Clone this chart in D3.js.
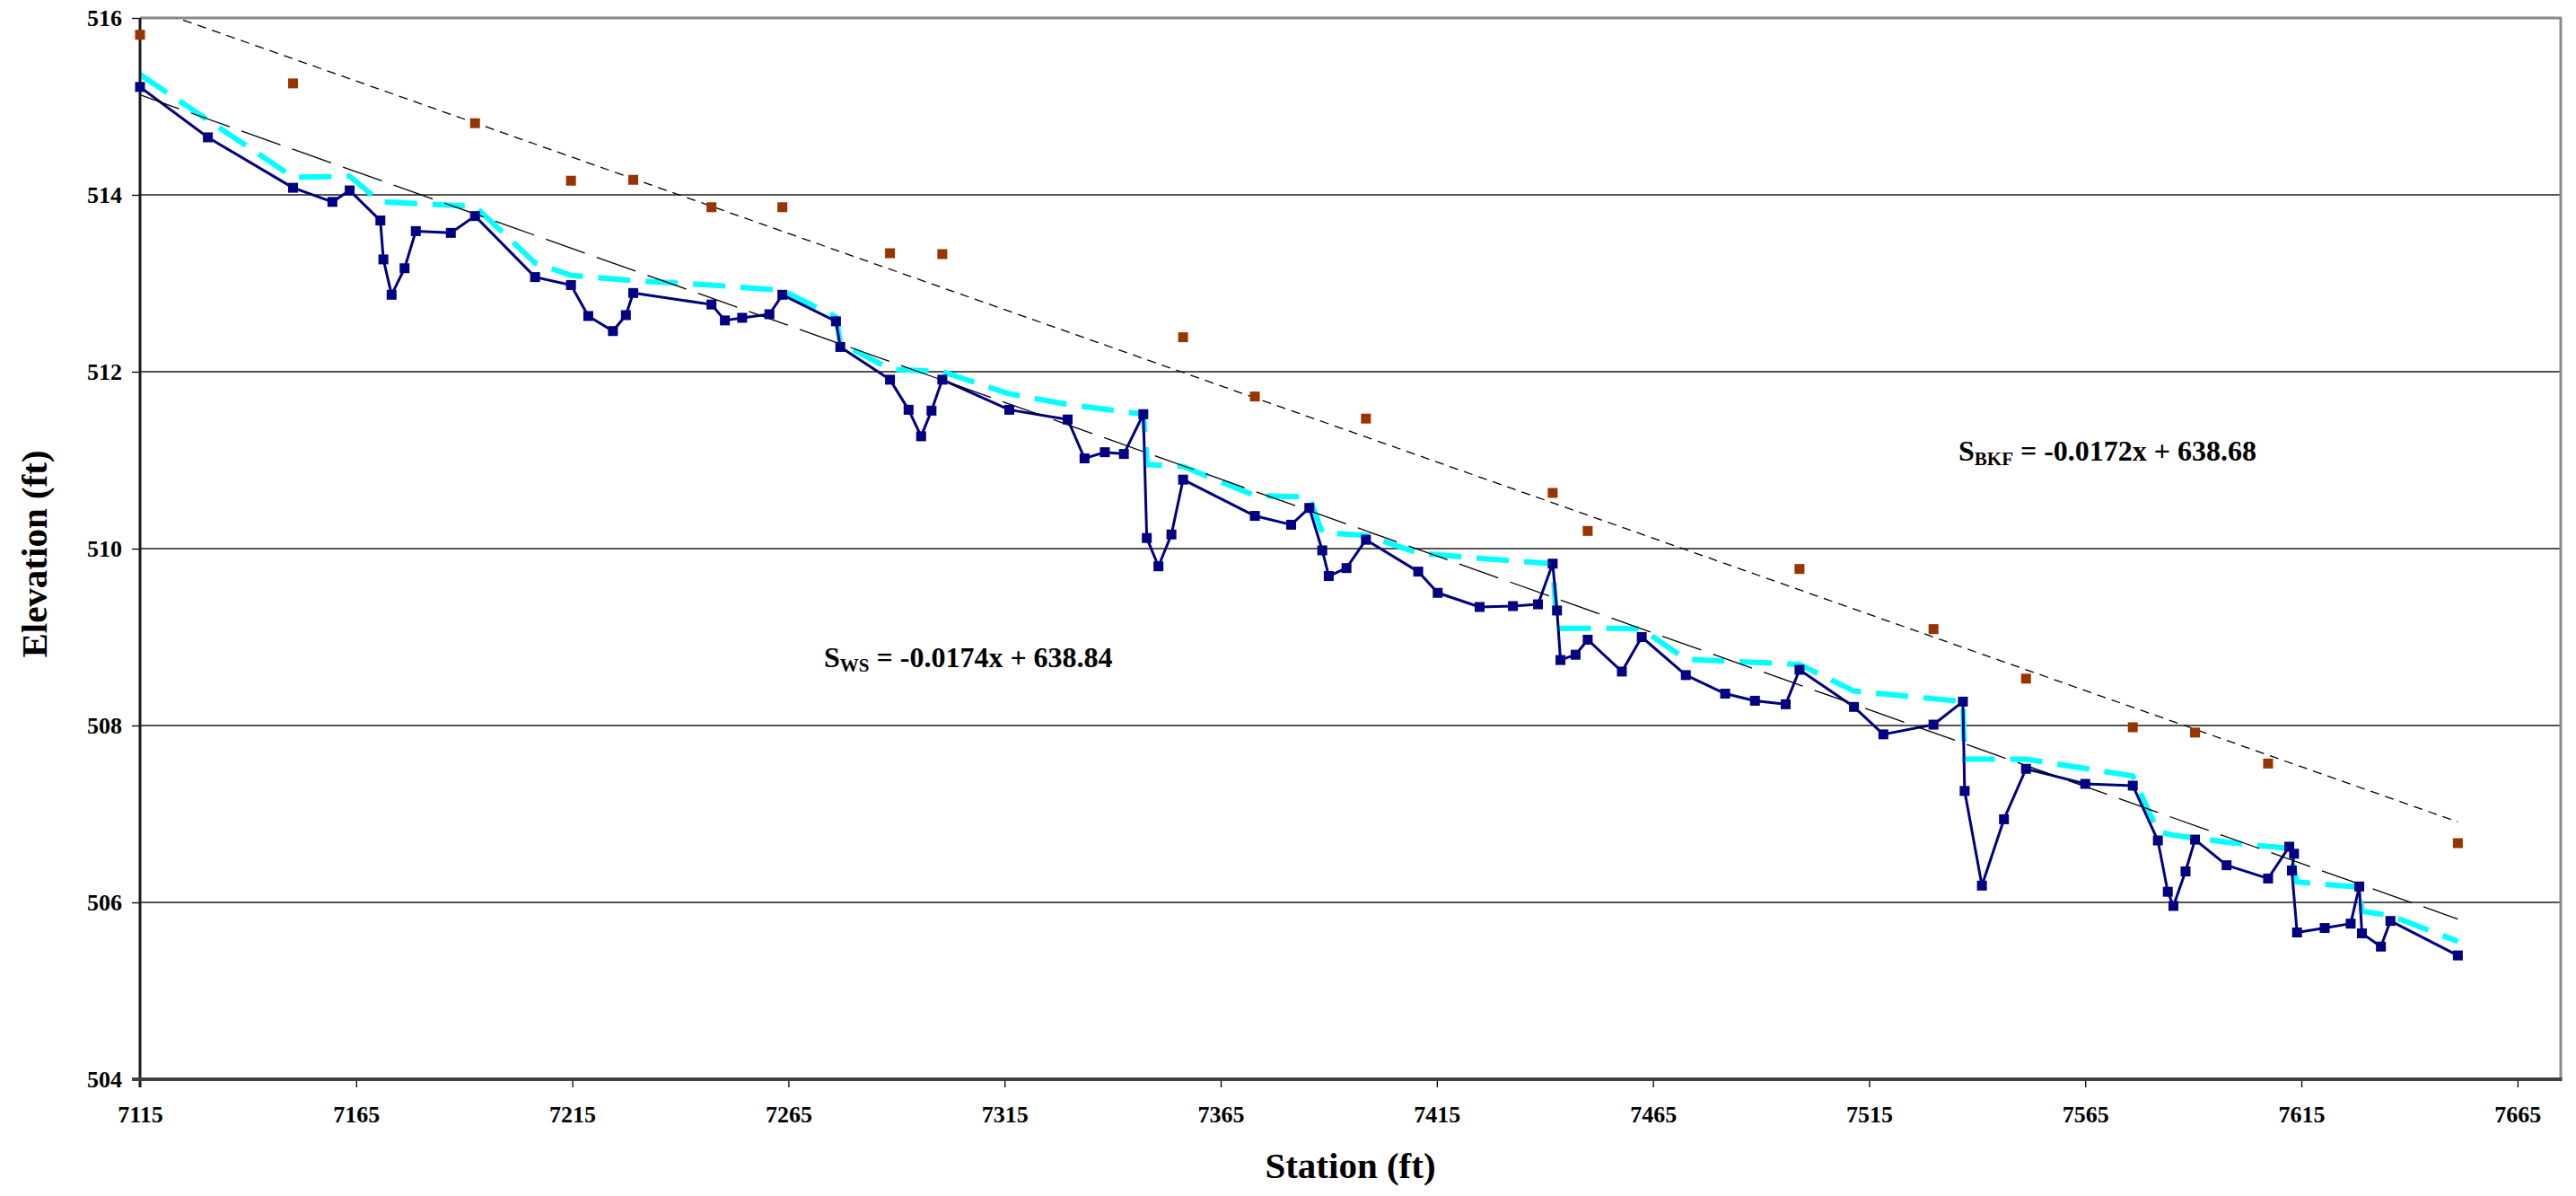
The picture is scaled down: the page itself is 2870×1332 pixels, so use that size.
<!DOCTYPE html>
<html>
<head>
<meta charset="utf-8">
<script src="https://cdn.jsdelivr.net/npm/d3@7"></script>
<style>
  html, body { margin: 0; padding: 0; background: #fff; }
  svg { display: block; font-family: "Liberation Serif", "Times New Roman", serif; }
</style>
</head>
<body>
<svg id="chart" width="2870" height="1332"></svg>
<script>
// ---------- DATA ----------
const thalwegStation = [7115.0,7130.7,7150.4,7159.5,7163.5,7170.6,7171.3,7173.2,7176.2,7178.8,7186.9,7192.5,7206.4,7214.7,7218.7,7224.4,7227.4,7229.1,7247.2,7250.3,7254.3,7260.6,7263.6,7276.0,7277.0,7288.5,7292.8,7295.7,7298.1,7300.6,7316.1,7329.6,7333.5,7338.2,7342.6,7347.1,7347.9,7350.6,7353.6,7356.3,7372.9,7381.3,7385.5,7388.5,7390.0,7394.1,7398.6,7410.7,7415.2,7424.9,7432.6,7438.4,7441.8,7442.8,7443.6,7447.1,7449.9,7457.8,7462.4,7472.6,7481.7,7488.6,7495.7,7498.9,7511.5,7518.3,7529.9,7536.7,7537.1,7541.1,7546.2,7551.3,7565.0,7576.0,7581.8,7584.1,7585.4,7588.2,7590.4,7597.7,7607.3,7612.2,7613.3,7612.8,7614.0,7620.4,7626.4,7628.4,7629.0,7633.4,7635.6,7651.2];
const thalwegElev = [515.22,514.65,514.08,513.92,514.05,513.71,513.27,512.87,513.17,513.59,513.57,513.76,513.07,512.98,512.63,512.46,512.64,512.89,512.76,512.58,512.61,512.65,512.87,512.57,512.28,511.91,511.57,511.27,511.56,511.91,511.57,511.46,511.02,511.09,511.07,511.52,510.12,509.80,510.16,510.78,510.37,510.27,510.46,509.98,509.69,509.78,510.10,509.74,509.50,509.34,509.35,509.37,509.83,509.30,508.74,508.80,508.97,508.61,509.00,508.57,508.36,508.28,508.24,508.63,508.21,507.90,508.01,508.27,507.26,506.19,506.94,507.51,507.34,507.32,506.70,506.12,505.96,506.35,506.71,506.42,506.27,506.63,506.55,506.36,505.66,505.71,505.76,506.18,505.65,505.50,505.79,505.40];

const wsStation = [7115.0,7150.4,7163.5,7170.6,7192.5,7206.4,7214.7,7229.1,7247.2,7263.6,7276.0,7277.0,7288.5,7300.6,7316.1,7329.6,7347.1,7348.0,7356.3,7372.9,7381.3,7385.5,7388.5,7398.6,7410.7,7424.9,7441.8,7442.8,7457.8,7462.4,7472.6,7498.9,7511.5,7536.7,7537.1,7551.3,7576.0,7581.8,7585.4,7597.7,7612.2,7614.0,7626.4,7628.4,7629.0,7635.6,7651.2];
const wsElev = [515.36,514.20,514.21,513.92,513.87,513.23,513.09,513.03,512.98,512.92,512.62,512.33,512.03,512.00,511.75,511.63,511.52,510.95,510.93,510.60,510.59,510.58,510.18,510.15,509.95,509.89,509.83,509.10,509.10,509.09,508.75,508.69,508.39,508.27,507.62,507.62,507.43,506.80,506.76,506.68,506.61,506.23,506.18,506.17,505.90,505.85,505.56];

const bkfStation = [7115.0,7150.4,7192.5,7214.7,7229.1,7247.2,7263.6,7288.5,7300.6,7356.3,7372.9,7398.6,7441.8,7449.9,7498.9,7529.9,7551.3,7576.0,7590.4,7607.3,7651.2];
const bkfElev = [515.81,515.26,514.81,514.16,514.17,513.86,513.86,513.34,513.33,512.39,511.72,511.47,510.63,510.20,509.77,509.09,508.53,507.98,507.92,507.57,506.67];

// trend lines (slope, intercept) as drawn, and their station range
const trendWS = [-0.01738, 638.789];
const trendBKF = [-0.01723, 638.74];
const trendRange = [7115.0, 7651.2];

const xTicks = [7115,7165,7215,7265,7315,7365,7415,7465,7515,7565,7615,7665];
const yTicks = [504,506,508,510,512,514,516];

const xTitle = "Station (ft)";
const yTitle = "Elevation (ft)";
const eqWS = { main: "S", sub: "WS", rest: " = -0.0174x + 638.84" };
const eqBKF = { main: "S", sub: "BKF", rest: " = -0.0172x + 638.68" };

// ---------- LAYOUT ----------
const W = 2870, H = 1332;
const L = 156, R = 2853, T = 20, B = 1202;
const svg = d3.select("#chart");

const x = d3.scaleLinear().domain([7115, 7675]).range([L, R]);
const y = d3.scaleLinear().domain([504, 516]).range([B, T]);

svg.append("rect").attr("x", 0).attr("y", 0).attr("width", W).attr("height", H).attr("fill", "#fff");

svg.append("defs").append("clipPath").attr("id", "clip")
  .append("rect").attr("x", L).attr("y", T).attr("width", R - L).attr("height", B - T);

// gridlines
svg.append("g").selectAll("line").data(yTicks.filter(d => d > 504 && d < 516)).join("line")
  .attr("x1", L).attr("x2", R).attr("y1", d => y(d)).attr("y2", d => y(d))
  .attr("stroke", "#1a1a1a").attr("stroke-width", 1.4);

// plot border top / right
svg.append("line").attr("x1", L).attr("x2", R + 1).attr("y1", T).attr("y2", T)
  .attr("stroke", "#8a8a8a").attr("stroke-width", 3);
svg.append("line").attr("x1", R).attr("x2", R).attr("y1", T).attr("y2", B)
  .attr("stroke", "#8a8a8a").attr("stroke-width", 3);

// axes
const xAxis = d3.axisBottom(x).tickValues(xTicks).tickSize(9).tickSizeOuter(0).tickFormat(d3.format("d"));
const gx = svg.append("g").attr("transform", `translate(0,${B})`).call(xAxis);
gx.select(".domain").remove();
gx.selectAll(".tick line").attr("stroke", "#000").attr("stroke-width", 1.3);
gx.selectAll(".tick text").attr("y", 48).attr("dy", 0)
  .style("font-family", "'Liberation Serif', serif").style("font-weight", "bold")
  .style("font-size", "26px").attr("fill", "#000");

const yAxis = d3.axisLeft(y).tickValues(yTicks).tickSize(9).tickPadding(11).tickSizeOuter(0).tickFormat(d3.format("d"));
const gy = svg.append("g").attr("transform", `translate(${L},0)`).call(yAxis);
gy.select(".domain").remove();
gy.selectAll(".tick line").attr("stroke", "#000").attr("stroke-width", 1.3);
gy.selectAll(".tick text")
  .style("font-family", "'Liberation Serif', serif").style("font-weight", "bold")
  .style("font-size", "26px").attr("fill", "#000");

const plot = svg.append("g").attr("clip-path", "url(#clip)");

// water surface (cyan dashed)
const wsData = wsStation.map((s, i) => [s, wsElev[i]]);
plot.append("path").datum(wsData)
  .attr("d", d3.line().x(d => x(d[0])).y(d => y(d[1])))
  .attr("fill", "none").attr("stroke", "#00ffff").attr("stroke-width", 6)
  .attr("stroke-dasharray", "36,17");

// thalweg (navy line + squares)
const twData = thalwegStation.map((s, i) => [s, thalwegElev[i]]);
plot.append("path").datum(twData)
  .attr("d", d3.line().x(d => x(d[0])).y(d => y(d[1])))
  .attr("fill", "none").attr("stroke", "#000080").attr("stroke-width", 3)
  .attr("stroke-linejoin", "round");

// trend lines
const trendLine = (c) => trendRange.map(s => [s, c[0] * s + c[1]]);
plot.append("path").datum(trendLine(trendWS))
  .attr("d", d3.line().x(d => x(d[0])).y(d => y(d[1])))
  .attr("fill", "none").attr("stroke", "#000").attr("stroke-width", 1.3)
  .attr("stroke-dasharray", "46,14");
plot.append("path").datum(trendLine(trendBKF))
  .attr("d", d3.line().x(d => x(d[0])).y(d => y(d[1])))
  .attr("fill", "none").attr("stroke", "#000").attr("stroke-width", 1.3)
  .attr("stroke-dasharray", "10,7");

// axis lines
svg.append("line").attr("x1", L).attr("x2", L).attr("y1", T).attr("y2", B + 9)
  .attr("stroke", "#1a1a1a").attr("stroke-width", 3);
svg.append("line").attr("x1", L - 9).attr("x2", R + 1.5).attr("y1", B).attr("y2", B)
  .attr("stroke", "#404040").attr("stroke-width", 4);

// markers (not clipped, drawn above axis lines as in the reference)
svg.append("g").selectAll("rect").data(twData).join("rect")
  .attr("x", d => x(d[0]) - 5.5).attr("y", d => y(d[1]) - 5.5)
  .attr("width", 11).attr("height", 11).attr("fill", "#000080");

const bkData = bkfStation.map((s, i) => [s, bkfElev[i]]);
svg.append("g").selectAll("rect").data(bkData).join("rect")
  .attr("x", d => x(d[0]) - 5.5).attr("y", d => y(d[1]) - 5.5)
  .attr("width", 11).attr("height", 11).attr("fill", "#993300");

// equations
function eq(e, px, py) {
  const t = svg.append("text").attr("x", px).attr("y", py)
    .style("font-family", "'Liberation Serif', serif").style("font-weight", "bold")
    .style("font-size", "32px").attr("fill", "#000");
  t.append("tspan").text(e.main);
  t.append("tspan").text(e.sub).style("font-size", "21px").attr("dy", 5);
  t.append("tspan").text(e.rest).attr("dy", -5);
}
eq(eqWS, 918, 743);
eq(eqBKF, 2182, 513);

// titles
svg.append("text").attr("x", (L + R) / 2).attr("y", 1312).attr("text-anchor", "middle")
  .style("font-family", "'Liberation Serif', serif").style("font-weight", "bold")
  .style("font-size", "41px").text(xTitle);
svg.append("text").attr("transform", `translate(52,617) rotate(-90)`).attr("text-anchor", "middle")
  .style("font-family", "'Liberation Serif', serif").style("font-weight", "bold")
  .style("font-size", "41px").text(yTitle);
</script>
</body>
</html>
